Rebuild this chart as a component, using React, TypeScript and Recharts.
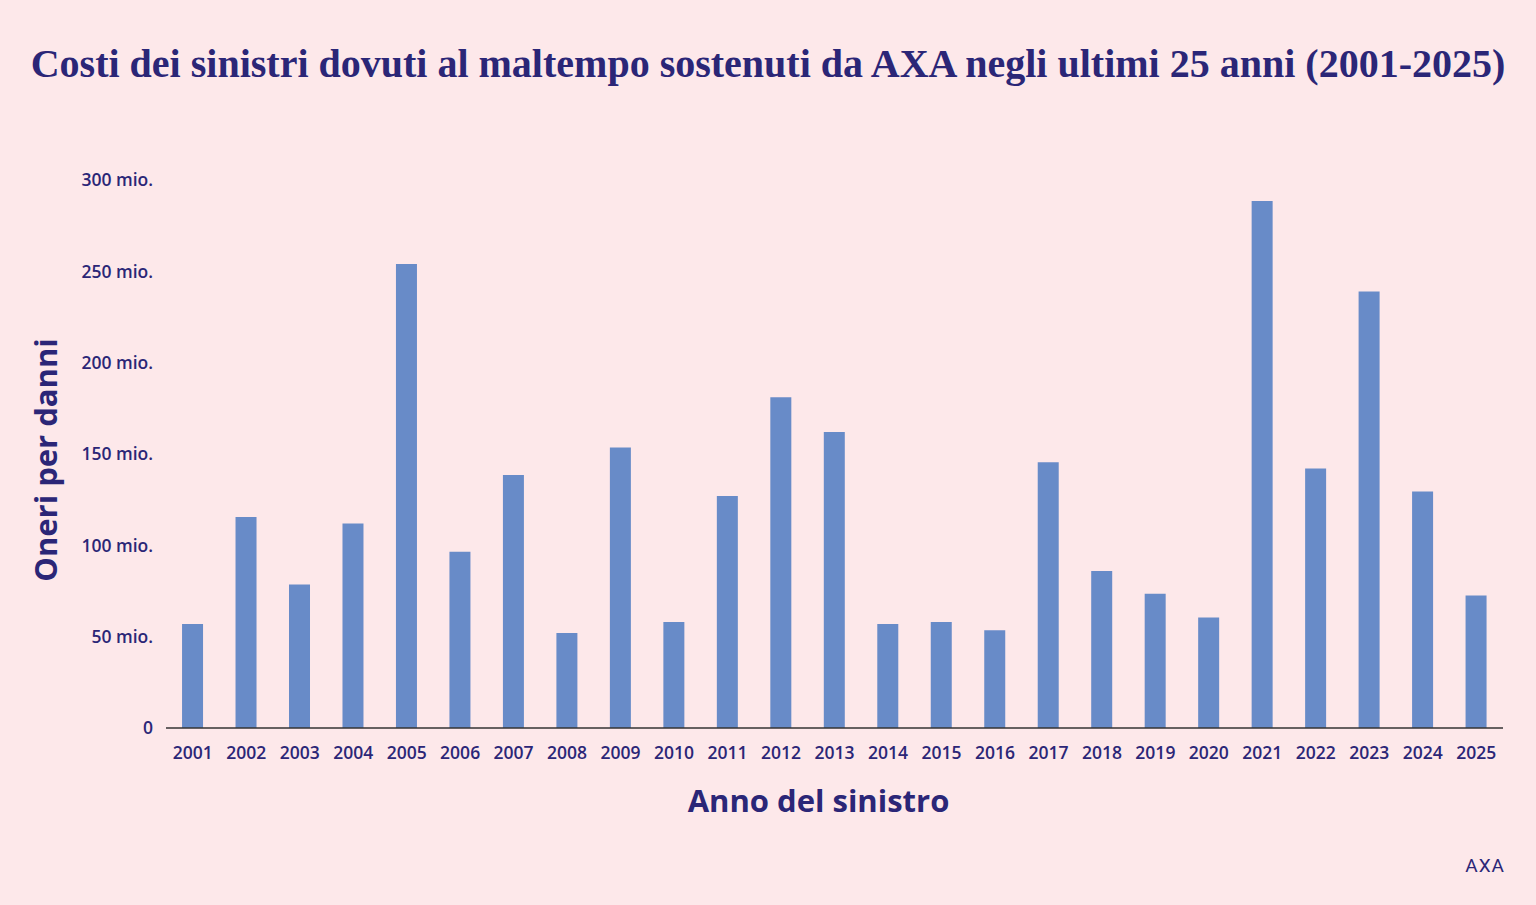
import { BarChart, Bar, XAxis, YAxis, Label } from "recharts"

const YEARS = [
  "2001", "2002", "2003", "2004", "2005", "2006", "2007", "2008", "2009", "2010",
  "2011", "2012", "2013", "2014", "2015", "2016", "2017", "2018", "2019", "2020",
  "2021", "2022", "2023", "2024", "2025",
]

// costs in millions
const COSTS = [
  57, 115.5, 78.5, 112, 254, 96.5, 138.5, 52, 153.5, 58,
  127, 181, 162, 57, 58, 53.5, 145.5, 86, 73.5, 60.5,
  288.5, 142, 239, 129.5, 72.5,
]

const Y_TICKS = [0, 50, 100, 150, 200, 250, 300]

const BG = "#fde8ea"
const INK = "#2b2677"
const BAR = "#688bc8"
const SANS = "'Open Sans', 'Noto Sans', sans-serif"

const data = YEARS.map((year, i) => ({ year, cost: COSTS[i] }))

export default function App() {
  return (
    <div
      style={{
        position: "absolute",
        left: 0,
        top: 0,
        width: 1536,
        height: 905,
        background: BG,
        overflow: "hidden",
      }}
    >
      <div
        style={{
          position: "absolute",
          left: 0,
          top: 40,
          width: 1536,
          textAlign: "center",
          fontFamily: "'Liberation Serif', 'DejaVu Serif', serif",
          fontWeight: 700,
          fontSize: 40,
          color: INK,
          whiteSpace: "nowrap",
        }}
      >
        Costi dei sinistri dovuti al maltempo sostenuti da AXA negli ultimi 25 anni (2001-2025)
      </div>

      <BarChart
        width={1536}
        height={905}
        data={data}
        margin={{ top: 180, right: 33, bottom: 0, left: 0 }}
        barCategoryGap="30%"
        style={{ position: "absolute", left: 0, top: 0 }}
      >
        <XAxis
          dataKey="year"
          height={177}
          axisLine={{ stroke: "#333", strokeWidth: 1.5 }}
          tickLine={false}
          tickMargin={13}
          interval={0}
          tick={{ fill: INK, fontFamily: SANS, fontWeight: 600, fontSize: 17.5 }}
        >
          <Label
            value="Anno del sinistro"
            position="insideTop"
            offset={62}
            dx={-16}
            fill={INK}
            fontFamily={SANS}
            fontWeight={700}
            fontSize={31}
          />
        </XAxis>
        <YAxis
          width={166}
          domain={[0, 300]}
          ticks={Y_TICKS}
          axisLine={false}
          tickLine={false}
          tickMargin={7}
          tick={{ fill: INK, fontFamily: SANS, fontWeight: 600, fontSize: 17.5 }}
          tickFormatter={(v: number) => (v === 0 ? "0" : `${v} mio.`)}
        >
          <Label
            value="Oneri per danni"
            angle={-90}
            position="insideLeft"
            offset={46}
            dy={6}
            fill={INK}
            fontFamily={SANS}
            fontWeight={700}
            fontSize={31}
            style={{ textAnchor: "middle" }}
          />
        </YAxis>
        <Bar dataKey="cost" fill={BAR} isAnimationActive={false} />
      </BarChart>

      <div
        style={{
          position: "absolute",
          right: 31,
          top: 854,
          fontFamily: "'Liberation Sans Narrow', 'Roboto', sans-serif",
          fontSize: 19,
          letterSpacing: 1,
          color: INK,
        }}
      >
        AXA
      </div>
    </div>
  )
}
